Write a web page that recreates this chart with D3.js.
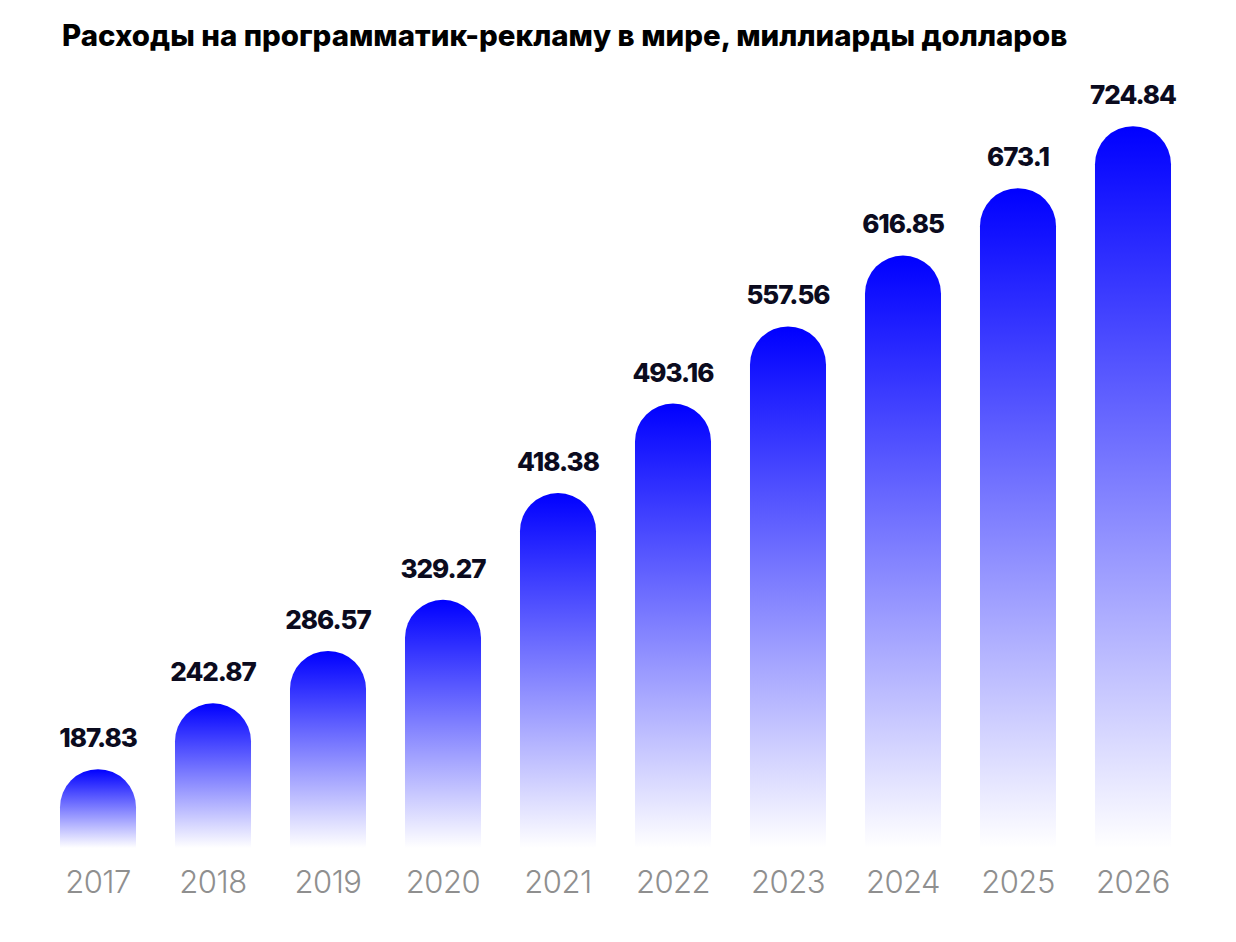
<!DOCTYPE html>
<html>
<head>
<meta charset="utf-8">
<script src="https://cdn.jsdelivr.net/npm/d3@7"></script>
<style>
  body { margin: 0; background: #fff; }
  .title { font-family: Inter, 'Noto Sans', sans-serif; font-weight: 800; fill: #000; }
  .value { font-family: Inter, 'Noto Sans', sans-serif; font-weight: 800; fill: #0b0b1e; letter-spacing: -1px; }
  .year { font-family: Inter, Lato, sans-serif; font-weight: 300; fill: #8f8f8f; letter-spacing: -0.5px; }
</style>
</head>
<body>
<div id="chart"></div>
<script>
/*
* Programmatic ad spend, bar chart
*/

const title = 'Расходы на программатик-рекламу в мире, миллиарды долларов';
const years = ['2017', '2018', '2019', '2020', '2021', '2022', '2023', '2024', '2025', '2026'];
const values = [187.83, 242.87, 286.57, 329.27, 418.38, 493.16, 557.56, 616.85, 673.1, 724.84];
const labels = ['187.83', '242.87', '286.57', '329.27', '418.38', '493.16', '557.56', '616.85', '673.1', '724.84'];

const W = 1236;
const H = 942;
const baseY = 848;

let svg = d3.select('#chart')
  .append('svg')
  .attr('width', W)
  .attr('height', H);

let x = d3.scaleBand()
  .domain(years)
  .range([60, 1171])
  .paddingInner(0.339)
  .paddingOuter(0);

// bars don't start at zero in the original, so the domain floor is raised
let y = d3.scaleLinear()
  .domain([122, 730])
  .range([baseY, 120]);

let defs = svg.append('defs');
let grad = defs.append('linearGradient')
  .attr('id', 'barGrad')
  .attr('x1', 0).attr('y1', 0)
  .attr('x2', 0).attr('y2', 1);
grad.append('stop').attr('offset', '0%').attr('stop-color', '#0000ff');
grad.append('stop').attr('offset', '100%').attr('stop-color', '#ffffff');

// title, fitted to the width of the original
let t = svg.append('text')
  .attr('class', 'title')
  .attr('x', 62)
  .attr('y', 46)
  .style('font-size', '28px')
  .text(title);
let tw = t.node().getComputedTextLength();
t.style('font-size', (28 * 1006 / tw) + 'px');

function barPath(d, i) {
  let x0 = x(years[i]);
  let bw = x.bandwidth();
  let r = bw / 2;
  let top = y(d);
  return 'M' + x0 + ',' + baseY +
    'L' + x0 + ',' + (top + r) +
    'A' + r + ',' + r + ' 0 0 1 ' + (x0 + bw) + ',' + (top + r) +
    'L' + (x0 + bw) + ',' + baseY + 'Z';
}

svg.selectAll('.bar')
  .data(values)
  .enter().append('path')
  .attr('class', 'bar')
  .attr('d', barPath)
  .style('fill', 'url(#barGrad)');

svg.selectAll('.value')
  .data(values)
  .enter().append('text')
  .attr('class', 'value')
  .attr('x', function (d, i) { return x(years[i]) + x.bandwidth() / 2; })
  .attr('y', function (d) { return y(d) - 22; })
  .attr('text-anchor', 'middle')
  .style('font-size', '26px')
  .text(function (d, i) { return labels[i]; });

svg.selectAll('.year')
  .data(years)
  .enter().append('text')
  .attr('class', 'year')
  .attr('x', function (d) { return x(d) + x.bandwidth() / 2; })
  .attr('y', 893)
  .attr('text-anchor', 'middle')
  .style('font-size', '31px')
  .text(function (d) { return d; });
</script>
</body>
</html>
